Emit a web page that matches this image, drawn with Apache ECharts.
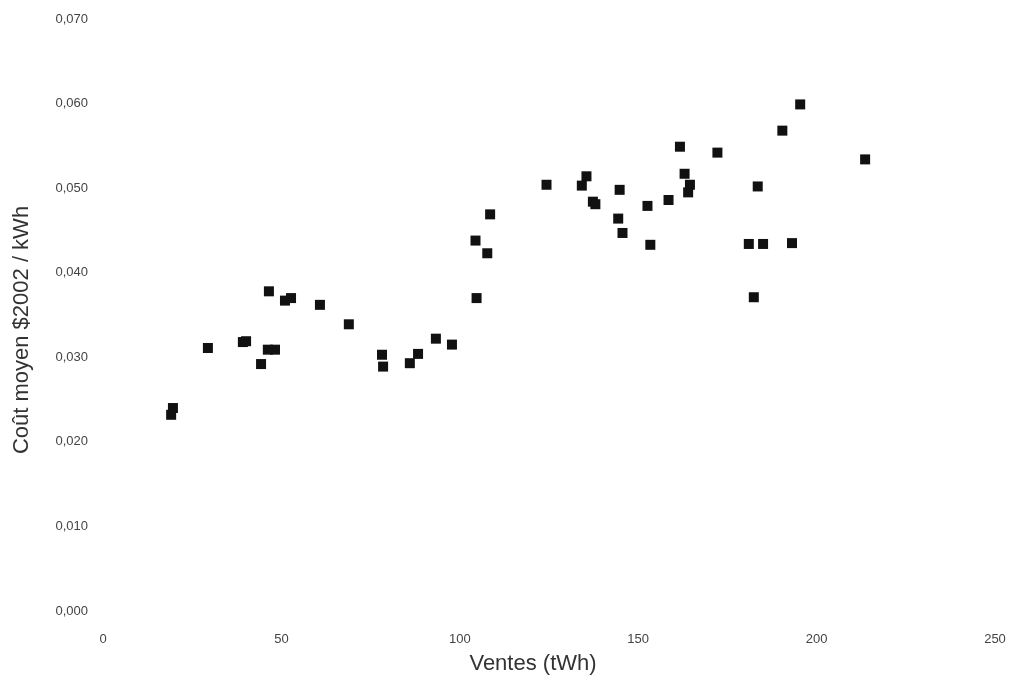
<!DOCTYPE html>
<html>
<head>
<meta charset="utf-8">
<script src="https://cdn.jsdelivr.net/npm/echarts@6/dist/echarts.min.js"></script>
<style>
  html, body { margin: 0; padding: 0; background: #fff; }
  #chart { width: 1016px; height: 685px; }
</style>
</head>
<body>
<div id="chart"></div>
<script>
// Ventes (tWh)
const ventes = [19.1, 19.6, 29.4, 39.2, 40.1, 44.3, 46.5, 46.2, 48.2, 51.0,
  52.7, 60.8, 68.9, 78.2, 78.5, 86.0, 88.3, 93.3, 97.8, 108.5,
  104.4, 107.7, 104.7, 124.3, 135.5, 134.2, 137.3, 138.0, 144.8, 144.4,
  145.6, 152.6, 153.4, 158.5, 161.7, 163.0, 164.5, 164.0, 172.2, 181.0,
  183.5, 185.0, 182.4, 190.4, 193.1, 195.4, 213.6];
// Coût moyen $2002 / kWh
const couts = [0.0232, 0.0240, 0.0311, 0.0318, 0.0319, 0.0292, 0.0378, 0.0309, 0.0309, 0.0367,
  0.0370, 0.0362, 0.0339, 0.0303, 0.0289, 0.0293, 0.0304, 0.0322, 0.0315, 0.0469,
  0.0438, 0.0423, 0.0370, 0.0504, 0.0514, 0.0503, 0.0484, 0.0481, 0.0498, 0.0464,
  0.0447, 0.0479, 0.0433, 0.0486, 0.0549, 0.0517, 0.0504, 0.0495, 0.0542, 0.0434,
  0.0502, 0.0434, 0.0371, 0.0568, 0.0435, 0.0599, 0.0534];
const xTicks = [0, 50, 100, 150, 200, 250];
const yTicks = [0, 0.01, 0.02, 0.03, 0.04, 0.05, 0.06, 0.07];

const points = ventes.map((v, i) => [v, couts[i]]);
const chart = echarts.init(document.getElementById('chart'), null, { renderer: 'canvas' });
const font = 'Liberation Sans, Arial, sans-serif';
chart.setOption({
  backgroundColor: '#ffffff',
  animation: false,
  grid: { left: 103, right: 21, top: 19, bottom: 74 },
  xAxis: {
    type: 'value',
    min: xTicks[0], max: xTicks[xTicks.length - 1], interval: 50,
    name: 'Ventes (tWh)',
    nameLocation: 'middle',
    nameGap: 42,
    nameTextStyle: { fontFamily: font, fontSize: 22, color: '#333', padding: [0, 32, 0, 0] },
    axisLine: { show: false },
    axisTick: { show: false },
    splitLine: { show: false },
    axisLabel: { margin: 22, fontFamily: font, fontSize: 13, color: '#444',
      formatter: v => String(v) }
  },
  yAxis: {
    type: 'value',
    min: yTicks[0], max: yTicks[yTicks.length - 1], interval: 0.01,
    name: 'Coût moyen $2002 / kWh',
    nameLocation: 'middle',
    nameGap: 70,
    nameRotate: 90,
    nameTextStyle: { fontFamily: font, fontSize: 22, color: '#333', padding: [0, 30, 0, 0] },
    axisLine: { show: false },
    axisTick: { show: false },
    splitLine: { show: false },
    axisLabel: { margin: 15, fontFamily: font, fontSize: 13, color: '#444',
      formatter: v => v.toFixed(3).replace('.', ',') }
  },
  series: [{
    type: 'scatter',
    data: points,
    symbol: 'rect',
    symbolSize: 10,
    itemStyle: { color: '#111', opacity: 1 }
  }]
});
</script>
</body>
</html>
